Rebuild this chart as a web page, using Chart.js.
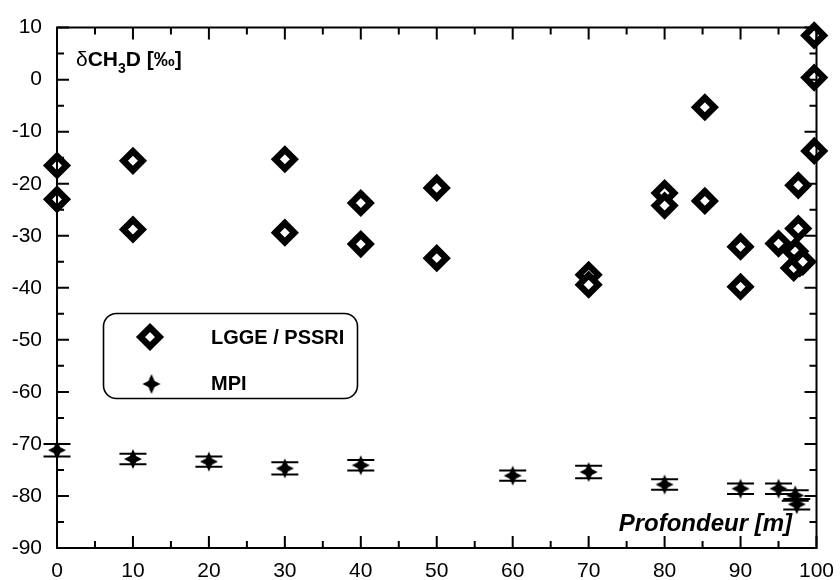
<!DOCTYPE html>
<html>
<head>
<meta charset="utf-8">
<script src="https://cdn.jsdelivr.net/npm/chart.js@4/dist/chart.umd.min.js"></script>
<style>
html,body{margin:0;padding:0;background:#fff;}
#wrap{width:840px;height:580px;position:relative;}
</style>
</head>
<body>
<div id="wrap"><canvas id="c" width="840" height="580"></canvas></div>
<script>
// ---- data ----
const lggeX = [0, 0, 10, 10, 30, 30, 40, 40, 50, 50, 70, 70, 80, 80, 85.3, 85.3, 90, 90, 95, 97.6, 97.6, 97.2, 97.8, 97.0, 98.2, 99.7, 99.7, 99.7];
const lggeY = [-16.5, -23.0, -15.6, -28.8, -15.3, -29.4, -23.7, -31.6, -20.8, -34.3, -37.5, -39.4, -21.8, -24.2, -5.3, -23.3, -32.1, -39.8, -31.5, -20.3, -28.6, -33.0, -35.3, -36.2, -35.0, -13.7, 0.4, 8.5];
const mpiX = [0, 10, 20, 30, 40, 60, 70, 80, 90, 95, 97.2, 97.4];
const mpiY = [-71.2, -72.9, -73.4, -74.7, -74.1, -76.1, -75.4, -77.8, -78.6, -78.6, -79.9, -81.6];
const mpiErr = [1.2, 1.0, 1.0, 1.2, 1.0, 1.0, 1.2, 1.0, 1.0, 1.0, 1.0, 1.0];
const seriesNames = ['LGGE / PSSRI', 'MPI'];
const xTitle = 'Profondeur [m]';
const yTitleParts = ['\u03B4', 'CH', '3', 'D [\u2030]'];
const xRange = [0, 100, 10];
const yRange = [-90, 10, 10];

const FONT = '"Liberation Sans", Arial, sans-serif';

function makeStar(RX, RY, r) {
  const W = 2 * RX + 2, H = 2 * RY + 2;
  const c = document.createElement('canvas');
  c.width = W; c.height = H;
  const g = c.getContext('2d');
  g.translate(W / 2, H / 2);
  g.beginPath();
  for (let i = 0; i < 8; i++) {
    const a = i * Math.PI / 4 - Math.PI / 2;
    if (i % 2) g.lineTo(r * Math.cos(a), r * Math.sin(a));
    else g.lineTo(RX * Math.cos(a), RY * Math.sin(a));
  }
  g.closePath();
  g.fillStyle = '#000';
  g.fill();
  return c;
}
const star = makeStar(9, 10, 4.4);

const DIAM_R = 9.5, DIAM_W = 6.5;

function drawDiamond(ctx, x, y) {
  ctx.save();
  ctx.beginPath();
  ctx.moveTo(x, y - DIAM_R);
  ctx.lineTo(x + DIAM_R, y);
  ctx.lineTo(x, y + DIAM_R);
  ctx.lineTo(x - DIAM_R, y);
  ctx.closePath();
  ctx.fillStyle = '#fff';
  ctx.fill();
  ctx.lineWidth = DIAM_W;
  ctx.strokeStyle = '#000';
  ctx.lineJoin = 'miter';
  ctx.stroke();
  ctx.restore();
}

const errorBars = {
  id: 'errorBars',
  beforeDatasetsDraw(chart) {
    const ctx = chart.ctx, xs = chart.scales.x, ys = chart.scales.y;
    ctx.save();
    ctx.strokeStyle = '#000';
    ctx.lineWidth = 2;
    for (let i = 0; i < mpiX.length; i++) {
      const px = xs.getPixelForValue(mpiX[i]);
      const pt = ys.getPixelForValue(mpiY[i] + mpiErr[i]);
      const pb = ys.getPixelForValue(mpiY[i] - mpiErr[i]);
      ctx.beginPath();
      ctx.moveTo(px, pt); ctx.lineTo(px, pb);
      ctx.moveTo(px - 13.5, pt); ctx.lineTo(px + 13.5, pt);
      ctx.moveTo(px - 13.5, pb); ctx.lineTo(px + 13.5, pb);
      ctx.stroke();
    }
    ctx.restore();
  }
};

const frame = {
  id: 'frame',
  afterDraw(chart) {
    const ctx = chart.ctx, a = chart.chartArea, xs = chart.scales.x, ys = chart.scales.y;
    ctx.save();
    ctx.strokeStyle = '#000';
    ctx.lineWidth = 2;
    ctx.lineCap = 'square';
    ctx.beginPath();
    ctx.rect(a.left, a.top, a.right - a.left, a.bottom - a.top);
    ctx.stroke();
    ctx.lineCap = 'butt';
    ctx.beginPath();
    for (let v = xRange[0]; v <= xRange[1]; v += xRange[2] / 2) {
      const major = Math.abs(v % xRange[2]) < 1e-9;
      const L = major ? 12 : 7;
      const px = xs.getPixelForValue(v);
      ctx.moveTo(px, a.bottom); ctx.lineTo(px, a.bottom - L);
      ctx.moveTo(px, a.top); ctx.lineTo(px, a.top + L);
    }
    for (let v = yRange[0]; v <= yRange[1]; v += yRange[2] / 2) {
      const major = Math.abs(v % yRange[2]) < 1e-9;
      const L = major ? 12 : 7;
      const py = ys.getPixelForValue(v);
      ctx.moveTo(a.left, py); ctx.lineTo(a.left + L, py);
      ctx.moveTo(a.right, py); ctx.lineTo(a.right - L, py);
    }
    ctx.stroke();

    // axis titles
    ctx.fillStyle = '#000';
    ctx.textBaseline = 'alphabetic';
    ctx.textAlign = 'left';
    let x = 76, y = 66;
    ctx.font = '21px ' + FONT;
    ctx.fillText(yTitleParts[0], x, y); x += ctx.measureText(yTitleParts[0]).width;
    ctx.font = 'bold 21px ' + FONT;
    ctx.fillText(yTitleParts[1], x, y); x += ctx.measureText(yTitleParts[1]).width;
    ctx.font = 'bold 14px ' + FONT;
    ctx.fillText(yTitleParts[2], x, y + 7); x += ctx.measureText(yTitleParts[2]).width;
    ctx.font = 'bold 21px ' + FONT;
    ctx.fillText(yTitleParts[3], x, y);

    ctx.font = 'italic bold 24px ' + FONT;
    ctx.textAlign = 'right';
    ctx.fillText(xTitle, 792, 531);

    // legend box
    ctx.lineWidth = 1.6;
    ctx.beginPath();
    ctx.roundRect(103.5, 313.5, 254, 85, 13);
    ctx.stroke();
    drawDiamond(ctx, 150, 337);
    ctx.drawImage(star, 151.5 - star.width / 2, 384 - star.height / 2);
    ctx.font = 'bold 20px ' + FONT;
    ctx.textAlign = 'left';
    ctx.textBaseline = 'middle';
    ctx.fillText(seriesNames[0], 211, 338);
    ctx.fillText(seriesNames[1], 211, 384);
    ctx.restore();
  }
};

new Chart(document.getElementById('c'), {
  type: 'scatter',
  data: {
    datasets: [
      {
        label: seriesNames[1],
        data: mpiX.map((x, i) => ({ x, y: mpiY[i] })),
        pointStyle: star,
        pointRadius: 10,
        backgroundColor: '#000',
        borderColor: '#000',
        clip: false
      },
      {
        label: seriesNames[0],
        data: lggeX.map((x, i) => ({ x, y: lggeY[i] })),
        pointStyle: 'rectRot',
        pointRadius: DIAM_R,
        borderWidth: DIAM_W,
        backgroundColor: '#fff',
        borderColor: '#000',
        clip: false
      }
    ]
  },
  options: {
    responsive: false,
    animation: false,
    events: [],
    layout: { padding: { left: 0, right: 23.5, top: 25, bottom: 0 } },
    plugins: { legend: { display: false }, tooltip: { enabled: false } },
    scales: {
      x: {
        type: 'linear', min: xRange[0], max: xRange[1],
        ticks: { stepSize: xRange[2], color: '#000', font: { family: FONT, size: 21 }, padding: 11, maxRotation: 0 },
        grid: { display: false, drawTicks: false },
        border: { display: false },
        afterFit(s) { s.height = 32; s.paddingLeft = 0; s.paddingRight = 0; }
      },
      y: {
        type: 'linear', min: yRange[0], max: yRange[1],
        ticks: { stepSize: yRange[2], color: '#000', font: { family: FONT, size: 21 }, padding: 15 },
        grid: { display: false, drawTicks: false },
        border: { display: false },
        afterFit(s) { s.width = 57; }
      }
    }
  },
  plugins: [errorBars, frame]
});
</script>
</body>
</html>
